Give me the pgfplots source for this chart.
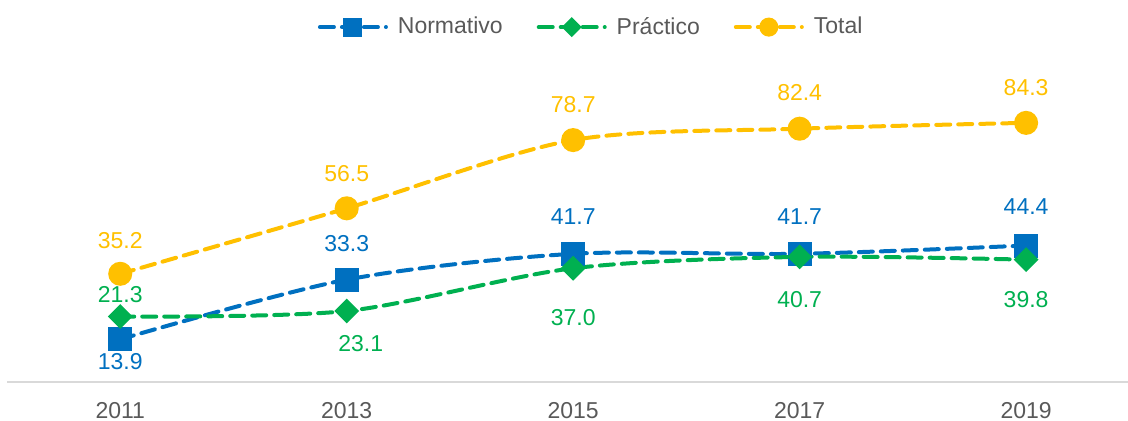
\documentclass[border=0pt]{standalone}
\usepackage{pgfplots}
\pgfplotsset{compat=1.18}
\usepackage{pgfplotstable}
\usepackage{fontspec}
\setmainfont{Liberation Sans}
\usetikzlibrary{calc}
\definecolor{cNorm}{HTML}{0070C0}
\definecolor{cPrac}{HTML}{00B050}
\definecolor{cTot}{HTML}{FFC000}
\definecolor{cTick}{HTML}{595959}
\definecolor{cAxis}{HTML}{D9D9D9}

% x y dx dy (label offsets in pt)
\pgfplotstableread{
x y dx dy
0 13.9 0 -11
1 33.3 0 18
2 41.7 0 18.5
3 41.7 0 18.5
4 44.4 0 19.5
}\normativo
\pgfplotstableread{
x y dx dy
0 21.3 0 11
1 23.1 7 -16.5
2 37.0 0 -24.5
3 40.7 0 -21.5
4 39.8 0 -20
}\practico
\pgfplotstableread{
x y dx dy
0 35.2 0 16.5
1 56.5 0 17.5
2 78.7 0 17.5
3 82.4 0 18
4 84.3 0 17.5
}\total

\begin{document}
\begin{tikzpicture}
\begin{axis}[
    name=ax,
    scale only axis,
    width=560.5pt, height=166pt,
    xmin=-0.5, xmax=4.45,
    ymin=0, ymax=108,
    axis x line*=bottom,
    axis y line=none,
    x axis line style={cAxis, line width=1pt},
    xtick={0,1,2,3,4},
    xticklabels={2011,2013,2015,2017,2019},
    major tick length=0pt,
    xticklabel style={text=cTick, font=\fontsize{11.5}{13}\selectfont, yshift=-6.5pt},
    clip=false,
    legend columns=-1,
    legend style={draw=none, fill=none, at={(0.522,1.069)}, anchor=center,
        font=\fontsize{11.5}{13}\selectfont, text=cTick,
        /tikz/every odd column/.append style={column sep=3pt},
        /tikz/every even column/.append style={column sep=15pt}},
    legend image code/.code={
        \draw[mark repeat=2, mark phase=2, every mark/.append style={scale=0.75}]
            plot coordinates {(0pt,0pt) (16.5pt,0pt) (33pt,0pt)};
    },
    every axis plot/.append style={
        line width=2pt, dash pattern=on 7pt off 4pt, line cap=round, smooth,
        mark size=5pt,
    },
    nodes near coords={\pgfmathprintnumber[fixed,fixed zerofill,precision=1,assume math mode=true]{\pgfplotspointmeta}},
    point meta=y,
    visualization depends on={\thisrow{dx} \as \dx},
    visualization depends on={\thisrow{dy} \as \dy},
    every node near coord/.append style={anchor=center, xshift=\dx pt, yshift=\dy pt,
        font=\fontsize{11.5}{13}\selectfont},
]
\addplot[cNorm, mark=square*, mark options={solid},
    every node near coord/.append style={text=cNorm}] table[x=x,y=y] {\normativo};
\addlegendentry{Normativo}
\addplot[cPrac, mark=square*, mark size=3.4pt, mark options={solid, rotate=45},
    every node near coord/.append style={text=cPrac}] table[x=x,y=y] {\practico};
\addlegendentry{Práctico}
\addplot[cTot, mark=*, mark options={solid},
    every node near coord/.append style={text=cTot}] table[x=x,y=y] {\total};
\addlegendentry{Total}
\end{axis}
\pgfresetboundingbox
\useasboundingbox ($(ax.south west)+(-3.5pt,-19pt)$) rectangle ($(ax.north east)+(0pt,25pt)$);
\end{tikzpicture}
\end{document}
